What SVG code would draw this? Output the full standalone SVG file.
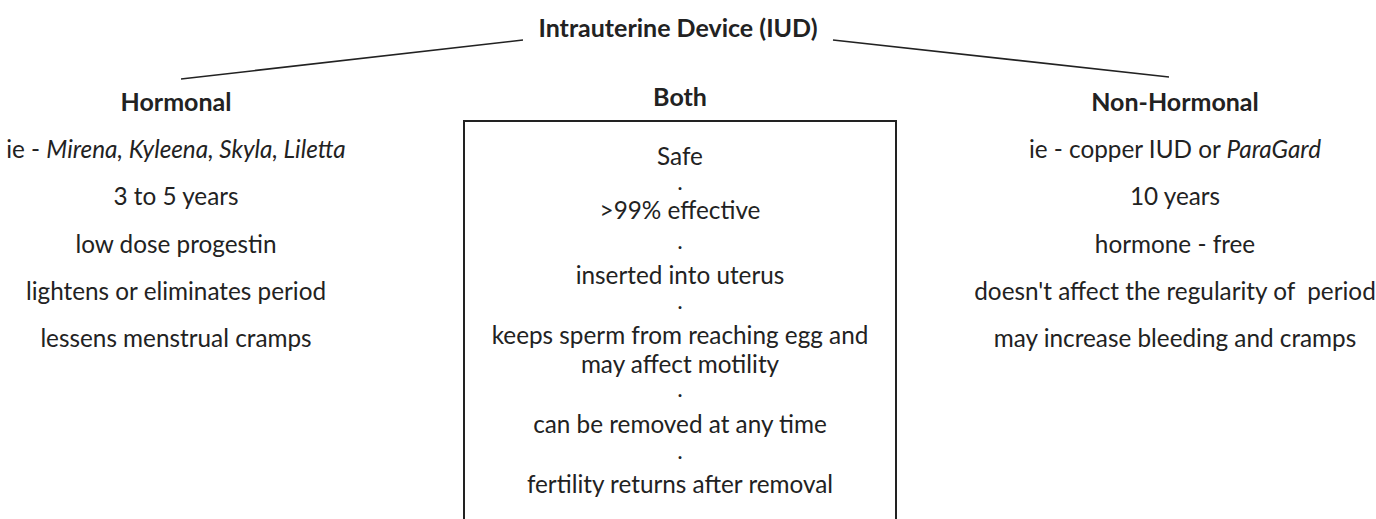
<svg xmlns="http://www.w3.org/2000/svg" width="1376" height="519" viewBox="0 0 1376 519">
<style>
text{font-family:Lato,"Open Sans","Liberation Sans",sans-serif;fill:#222;text-anchor:middle;font-size:24.3px}
.b{font-weight:bold;font-size:25px}
.i{font-style:italic}
.d{font-size:19px;font-weight:bold}
.ln{stroke:#222;stroke-width:1.6;fill:none}
</style>
<rect width="1376" height="519" fill="#fff"/>
<g id="connectors">
<line class="ln" x1="181" y1="79" x2="523" y2="40"/>
<line class="ln" x1="833" y1="40" x2="1169" y2="77"/>
</g>
<g id="root"><text class="b" x="678" y="37">Intrauterine Device (IUD)</text></g>
<g id="hormonal">
<text class="b" x="176" y="111">Hormonal</text>
<text x="176" y="158">ie - <tspan class="i">Mirena, Kyleena, Skyla, Liletta</tspan></text>
<text x="176" y="205">3 to 5 years</text>
<text x="176" y="253">low dose progestin</text>
<text x="176" y="300">lightens or eliminates period</text>
<text x="176" y="347">lessens menstrual cramps</text>
</g>
<g id="both">
<text class="b" x="680" y="106">Both</text>
<path class="ln" d="M464,521 V121 H896 V521" style="stroke-width:2"/>
<text x="680" y="165">Safe</text>
<text class="d" x="680" y="190">.</text>
<text x="680" y="219">&gt;99% effective</text>
<text class="d" x="680" y="249">.</text>
<text x="680" y="284">inserted into uterus</text>
<text class="d" x="680" y="309">.</text>
<text x="680" y="344">keeps sperm from reaching egg and<tspan x="680" dy="29">may affect motility</tspan></text>
<text class="d" x="680" y="397">.</text>
<text x="680" y="433">can be removed at any time</text>
<text class="d" x="680" y="459">.</text>
<text x="680" y="493">fertility returns after removal</text>
</g>
<g id="nonhormonal">
<text class="b" x="1175" y="111">Non-Hormonal</text>
<text x="1175" y="158">ie - copper IUD or <tspan class="i">ParaGard</tspan></text>
<text x="1175" y="205">10 years</text>
<text x="1175" y="253">hormone - free</text>
<text x="1175" y="300" xml:space="preserve">doesn't affect the regularity of  period</text>
<text x="1175" y="347">may increase bleeding and cramps</text>
</g>
</svg>
